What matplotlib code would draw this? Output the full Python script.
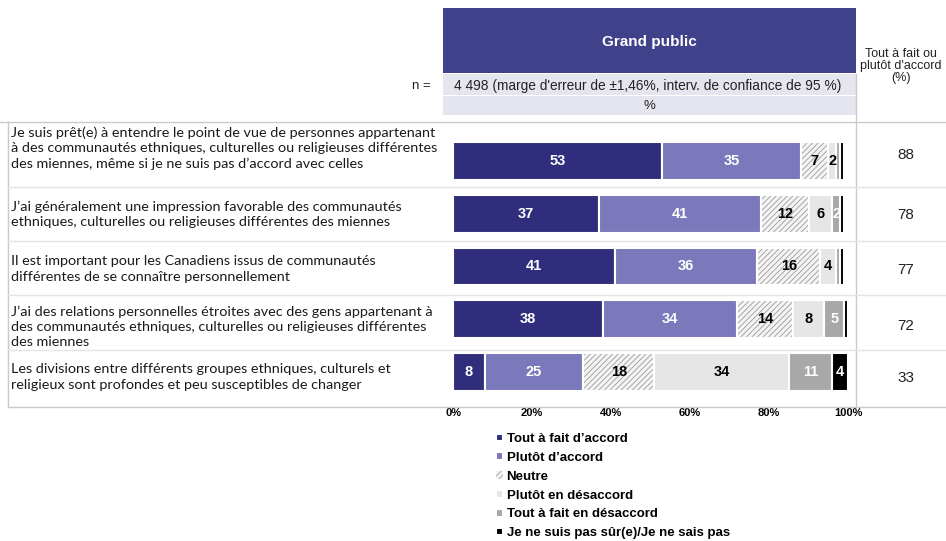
import matplotlib
matplotlib.use("Agg")
import matplotlib.pyplot as plt
from matplotlib.patches import Rectangle
from matplotlib.lines import Line2D
import numpy as np

# ---------------- data ----------------
statements = [
    "Je suis prêt(e) à entendre le point de vue de personnes appartenant\n"
    "à des communautés ethniques, culturelles ou religieuses différentes\n"
    "des miennes, même si je ne suis pas d’accord avec celles",
    "J’ai généralement une impression favorable des communautés\n"
    "ethniques, culturelles ou religieuses différentes des miennes",
    "Il est important pour les Canadiens issus de communautés\n"
    "différentes de se connaître personnellement",
    "J’ai des relations personnelles étroites avec des gens appartenant à\n"
    "des communautés ethniques, culturelles ou religieuses différentes\n"
    "des miennes",
    "Les divisions entre différents groupes ethniques, culturels et\n"
    "religieux sont profondes et peu susceptibles de changer",
]
categories = [
    "Tout à fait d’accord",
    "Plutôt d’accord",
    "Neutre",
    "Plutôt en désaccord",
    "Tout à fait en désaccord",
    "Je ne suis pas sûr(e)/Je ne sais pas",
]
tout_fait_accord = [53, 37, 41, 38, 8]
plutot_accord = [35, 41, 36, 34, 25]
neutre = [7, 12, 16, 14, 18]
plutot_desaccord = [2, 6, 4, 8, 34]
tout_fait_desaccord = [1, 2, 1, 5, 11]
ne_sais_pas = [1, 1, 1, 1, 4]
totals = [88, 78, 77, 72, 33]
xticks = [0, 20, 40, 60, 80, 100]
xtick_labels = ["0%", "20%", "40%", "60%", "80%", "100%"]

header_title = "Grand public"
n_label = "n ="
n_text = "4 498 (marge d'erreur de ±1,46%, interv. de confiance de 95 %)"
pct_text = "%"
total_header = "Tout à fait ou\nplutôt d'accord\n(%)"

# ---------------- style ----------------
W, H = 946, 541
fig = plt.figure(figsize=(W / 100, H / 100), dpi=100)
fig.patch.set_facecolor("white")

def fx(px):
    return px / W

def fy(py):
    return 1 - py / H

ARIAL = "Liberation Sans"
LABELF = "Lato"
plt.rcParams["hatch.linewidth"] = 0.6

colors = ["#302E7C", "#7B78BB", "#F4F4F4", "#E6E6E6", "#A8A8A8", "#000000"]
text_colors = ["white", "white", "black", "black", "white", "white"]
hatches = [None, None, "//////", None, None, None]

# ---------------- header decorations ----------------
fig.add_artist(Rectangle((fx(443), fy(73)), fx(856) - fx(443), fy(8) - fy(73),
                         transform=fig.transFigure, facecolor="#3F418A", edgecolor="none"))
fig.add_artist(Rectangle((fx(443), fy(95)), fx(856) - fx(443), fy(74) - fy(95),
                         transform=fig.transFigure, facecolor="#E5E5F0", edgecolor="none"))
fig.add_artist(Rectangle((fx(443), fy(115)), fx(856) - fx(443), fy(96) - fy(115),
                         transform=fig.transFigure, facecolor="#E5E5F0", edgecolor="none"))
fig.text(fx(649), fy(42), header_title, color="white", fontsize=11, fontweight="bold",
         family=ARIAL, ha="center", va="center")
fig.text(fx(431), fy(86), n_label, fontsize=9.5, family=ARIAL, ha="right", va="center", color="#222222")
fig.text(fx(648), fy(86), n_text, fontsize=9.9, family=ARIAL, ha="center", va="center", color="#222222")
fig.text(fx(649), fy(106), pct_text, fontsize=9.5, family=ARIAL, ha="center", va="center", color="#222222")
fig.text(fx(901), fy(66), total_header, fontsize=9.0, family=ARIAL, ha="center", va="center",
         color="#222222", linespacing=1.0)

# ---------------- bars ----------------
ax = fig.add_axes([fx(453), fy(407), fx(848) - fx(453), fy(122) - fy(407)])
n = len(statements)
y = np.arange(n)
series = [tout_fait_accord, plutot_accord, neutre, plutot_desaccord, tout_fait_desaccord, ne_sais_pas]
left = np.zeros(n)
for k, vals in enumerate(series):
    vals = np.array(vals, dtype=float)
    if hatches[k]:
        ax.barh(y, vals, left=left, height=0.72, color=colors[k], hatch=hatches[k],
                edgecolor="#9A9A9A", linewidth=0, label=categories[k])
        ax.barh(y, vals, left=left, height=0.72, facecolor="none", edgecolor="white", linewidth=1.5)
    else:
        ax.barh(y, vals, left=left, height=0.72, color=colors[k], edgecolor="white",
                linewidth=1.5, label=categories[k])
    for i, v in enumerate(vals):
        if v >= 2:
            ax.text(left[i] + v / 2, y[i], f"{int(v)}", ha="center", va="center",
                    fontsize=10.5, fontweight="bold", family=ARIAL, color=text_colors[k])
    left += vals

ax.set_xlim(0, 100)
ax.set_ylim(4 + 35 / 52.75, -39 / 52.75)
ax.set_xticks(xticks)
ax.set_xticklabels(xtick_labels, fontsize=8, fontweight="bold", family=ARIAL)
ax.tick_params(axis="x", length=0, pad=1)
ax.set_yticks([])
for s in ax.spines.values():
    s.set_visible(False)
ax.patch.set_alpha(0)

# ---------------- table lines ----------------
line_c = "#C9C9CF"
fig.add_artist(Line2D([0, 1], [fy(122), fy(122)], transform=fig.transFigure, color=line_c, lw=1))
fig.add_artist(Line2D([fx(8), 1], [fy(407), fy(407)], transform=fig.transFigure, color=line_c, lw=1))
fig.add_artist(Line2D([fx(8), fx(8)], [fy(122), fy(407)], transform=fig.transFigure, color=line_c, lw=1))
fig.add_artist(Line2D([fx(856), fx(856)], [fy(74), fy(407)], transform=fig.transFigure, color=line_c, lw=1))
for py in [187, 241, 295, 350]:
    fig.add_artist(Line2D([fx(8), 1], [fy(py), fy(py)], transform=fig.transFigure,
                          color="#E4E4EA", lw=1))

# ---------------- row labels & totals ----------------
label_y = [148, 214, 269, 327, 377]
total_y = [155, 215, 270, 326, 378]
for i in range(n):
    fig.text(fx(11), fy(label_y[i]), statements[i], fontsize=10.4, family=LABELF,
             ha="left", va="center", color="#1A1A1A", linespacing=1.32)
    fig.text(fx(906), fy(total_y[i]), f"{totals[i]}", fontsize=11, family=ARIAL,
             ha="center", va="center", color="#222222")

# ---------------- legend ----------------
handles, labels = ax.get_legend_handles_labels()
fig.legend(handles, labels, loc="upper left", bbox_to_anchor=(fx(496), fy(433)),
           frameon=False, prop={"family": ARIAL, "size": 9.5, "weight": "bold"},
           handlelength=0.5, handleheight=0.5, handletextpad=0.3,
           labelspacing=0.52, borderpad=0, borderaxespad=0)

fig.savefig("out.png", dpi=100, facecolor="white")
